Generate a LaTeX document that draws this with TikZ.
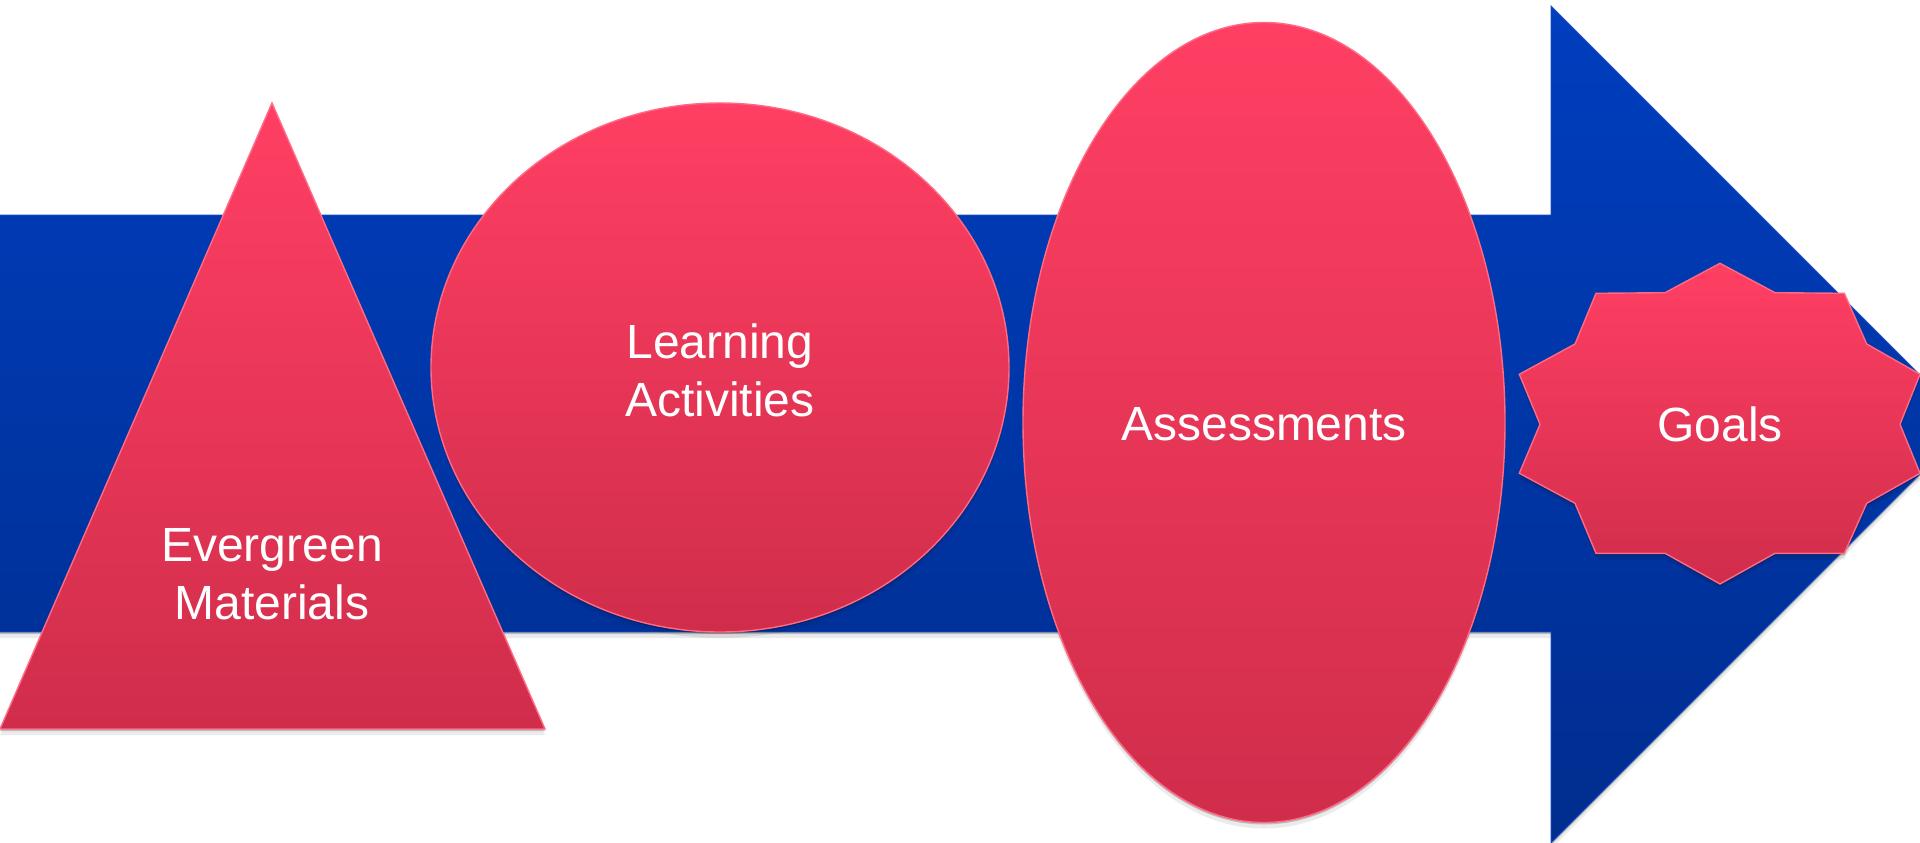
\documentclass[tikz,border=0pt]{standalone}
\usepackage{fontspec}
\setmainfont{Liberation Sans}
\usetikzlibrary{shadows}
\definecolor{bluetop}{HTML}{003EBF}
\definecolor{bluebot}{HTML}{002D8E}
\definecolor{blueline}{HTML}{1A50C4}
\definecolor{pinktop}{HTML}{FF3F63}
\definecolor{pinkbot}{HTML}{D02D4B}
\definecolor{pinkline}{HTML}{FF6A85}
\begin{document}
\begin{tikzpicture}[x=1pt,y=-1pt,
  softshadow/.style={drop shadow={shadow xshift=0pt,shadow yshift=-2pt,opacity=0.2,fill=black},
                     drop shadow={shadow xshift=0pt,shadow yshift=-6pt,opacity=0.08,fill=black}},
  bluearrow/.style={top color=bluetop,bottom color=bluebot,draw=blueline,line width=0.8pt,softshadow},
  pinkshape/.style={top color=pinktop,bottom color=pinkbot,draw=pinkline,line width=1.4pt,softshadow},
  label/.style={text=white,font=\fontsize{48}{58}\selectfont,align=center,inner sep=0pt}]
\clip (0,0) rectangle (1920,843);
\fill[white] (0,0) rectangle (1920,843);
% big arrow
\path[bluearrow] (-5,215) -- (1551,215) -- (1551,6) -- (1969.5,424.5) -- (1551,843) -- (1551,632) -- (-5,632) -- cycle;
% triangle
\path[pinkshape] (272,103) -- (545,729) -- (0,729) -- cycle;
% ellipses
\path[pinkshape] (720,367.5) ellipse [x radius=289, y radius=264.5];
\path[pinkshape] (1264,422.5) ellipse [x radius=241, y radius=400];
% ten-point star
\path[pinkshape] (1720,263.3) -- (1775,292.7) -- (1844.3,293.3) -- (1866.7,344) -- (1920,374.3)
  -- (1900,424.3) -- (1920,473.3) -- (1866.7,503.3) -- (1844.3,553.3) -- (1775,553.3)
  -- (1720,584) -- (1665,553.3) -- (1596,553.3) -- (1575,503.3) -- (1519.3,473.3)
  -- (1540,424.3) -- (1519.3,374.3) -- (1575,344) -- (1596,293.3) -- (1665,292.7) -- cycle;
% labels
\node[label] (evergreen) at (272,574) {Evergreen\\Materials};
\node[label] (learning) at (720,370) {Learning\\Activities};
\node[label] (assess) at (1264,424.5) {Assessments};
\node[label] (goals) at (1720,424) {Goals};
\end{tikzpicture}
\end{document}
